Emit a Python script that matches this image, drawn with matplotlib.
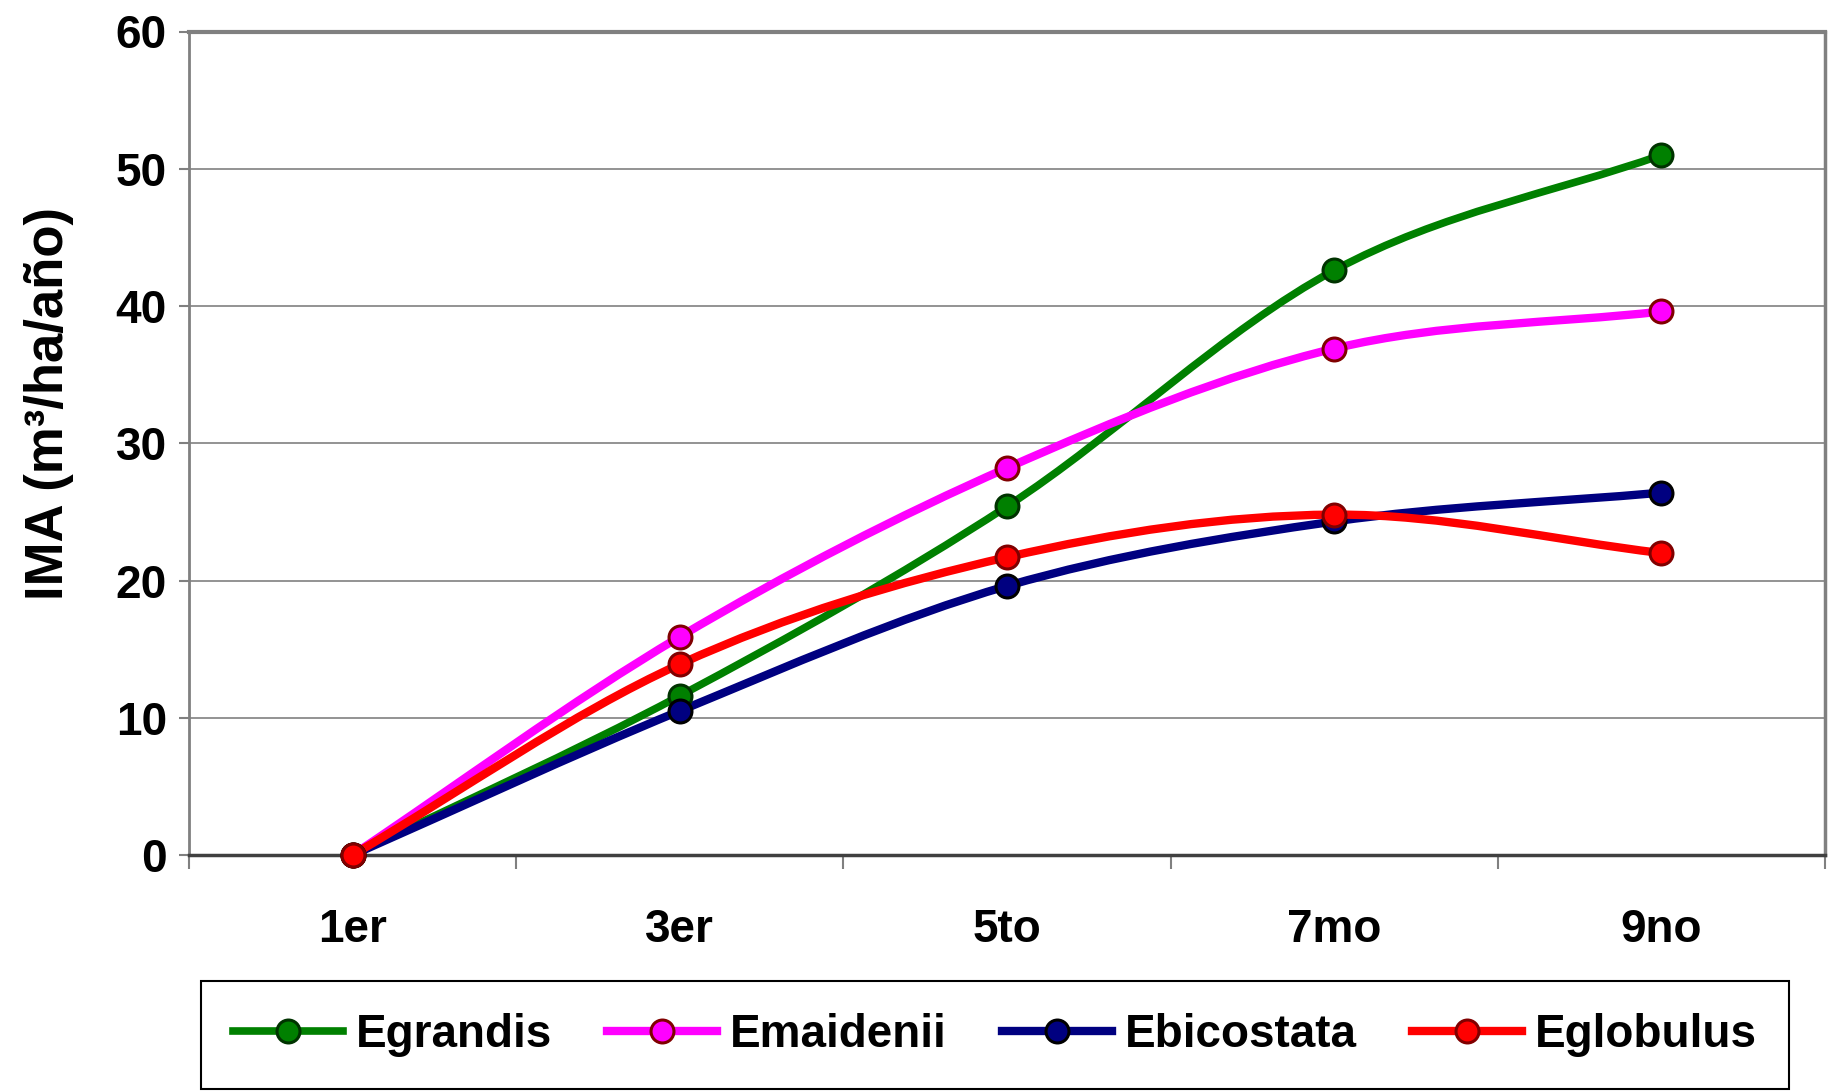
import numpy as np
import matplotlib
matplotlib.use("Agg")
import matplotlib.pyplot as plt
from matplotlib.path import Path
from matplotlib.patches import PathPatch
from matplotlib.lines import Line2D
from matplotlib import font_manager

# -----------------------------
# Data
# -----------------------------
categories = ["1er", "3er", "5to", "7mo", "9no"]
egrandis = [0.0, 11.6, 25.4, 42.6, 51.0]
emaidenii = [0.0, 15.9, 28.2, 36.9, 39.6]
ebicostata = [0.0, 10.5, 19.6, 24.3, 26.4]
eglobulus = [0.0, 13.9, 21.7, 24.8, 22.0]
series_names = ["Egrandis", "Emaidenii", "Ebicostata", "Eglobulus"]
y_ticks = [0, 10, 20, 30, 40, 50, 60]

# -----------------------------
# Styles
# -----------------------------
LINE_COLORS = ["#008000", "#FF00FF", "#000080", "#FF0000"]
EDGE_COLORS = ["#003300", "#800000", "#000000", "#800000"]
LINE_WIDTHS = [5.5, 6.0, 6.0, 6.0]
GRAY = "#808080"

# condensed font for the y tick labels if it exists
try:
    font_manager.findfont("Liberation Sans Narrow", fallback_to_default=False)
    NARROW, NARROW_SIZE = "Liberation Sans Narrow", 37
except Exception:
    NARROW, NARROW_SIZE = "Liberation Sans", 33
plt.rcParams["font.family"] = ["Liberation Sans", "DejaVu Sans"]


def smooth_path(xs, ys):
    # Excel-like smoothed line: cubic Bezier segments through the points
    pts = np.column_stack([xs, ys]).astype(float)
    n = len(pts)
    tang = np.zeros_like(pts)
    for i in range(n):
        if i == 0:
            tang[i] = pts[1] - pts[0]
        elif i == n - 1:
            tang[i] = pts[-1] - pts[-2]
        else:
            tang[i] = (pts[i + 1] - pts[i - 1]) / 2.0
    verts = [pts[0]]
    codes = [Path.MOVETO]
    for i in range(n - 1):
        verts += [pts[i] + tang[i] / 3.0, pts[i + 1] - tang[i + 1] / 3.0, pts[i + 1]]
        codes += [Path.CURVE4] * 3
    return Path(verts, codes)


W, H = 1832, 1092
fig = plt.figure(figsize=(W / 100, H / 100), dpi=100)
ax = fig.add_axes([189 / W, 1 - 855 / H, (1825 - 189) / W, (855 - 31.5) / H])

x = np.arange(len(categories))
all_series = [egrandis, emaidenii, ebicostata, eglobulus]
handles = []
for name, vals, lc, ec, lw in zip(series_names, all_series, LINE_COLORS, EDGE_COLORS, LINE_WIDTHS):
    patch = PathPatch(smooth_path(x, vals), facecolor="none", edgecolor=lc, lw=lw,
                      capstyle="round", joinstyle="round", zorder=3)
    ax.add_patch(patch)
    ax.plot(x, vals, linestyle="none", marker="o", markersize=16.5, markerfacecolor=lc,
            markeredgecolor=ec, markeredgewidth=2.2, clip_on=False, zorder=4)
    handles.append(Line2D([], [], color=lc, lw=lw, marker="o", markersize=16.5,
                          markerfacecolor=lc, markeredgecolor=ec, markeredgewidth=2.2))

ax.set_xlim(-0.5, len(categories) - 0.5)
ax.set_ylim(0, 60)

# grid + frame
ax.set_axisbelow(True)
ax.yaxis.grid(True, color=GRAY, lw=1.2)
ax.spines["top"].set_color(GRAY)
ax.spines["top"].set_linewidth(3)
ax.spines["right"].set_color(GRAY)
ax.spines["right"].set_linewidth(2.5)
ax.spines["left"].set_color(GRAY)
ax.spines["left"].set_linewidth(2)
ax.spines["bottom"].set_color("#404040")
ax.spines["bottom"].set_linewidth(2.5)

# y axis
ax.set_yticks(y_ticks)
ax.set_yticklabels([str(v) for v in y_ticks], fontsize=NARROW_SIZE, fontweight="bold",
                   family=[NARROW, "DejaVu Sans"])
ax.tick_params(axis="y", direction="out", length=7, width=1.5, color=GRAY, pad=9)

# x axis: ticks between categories, labels centred
ax.set_xticks(np.arange(-0.5, len(categories), 1.0))
ax.set_xticklabels([])
ax.set_xticks(x, minor=True)
ax.set_xticklabels(categories, minor=True, fontsize=33, fontweight="bold")
ax.tick_params(axis="x", which="major", direction="out", length=10, width=1.5, color=GRAY)
ax.tick_params(axis="x", which="minor", length=0, pad=38)

fig.text(49 / W, 1 - 403 / H, "IMA (m³/ha/año)", rotation=90, ha="center", va="center",
         fontsize=38, fontweight="bold")

leg = fig.legend(handles, series_names, loc="upper left", bbox_to_anchor=(201 / W, 1 - 981 / H),
                 ncol=4, frameon=True, fancybox=False, framealpha=1, edgecolor="black",
                 prop={"size": 33, "weight": "bold"}, handlelength=2.4, handletextpad=0.28,
                 columnspacing=1.2, borderpad=0.7, borderaxespad=0)
leg.get_frame().set_linewidth(1.5)

fig.savefig("out.png", dpi=100)
